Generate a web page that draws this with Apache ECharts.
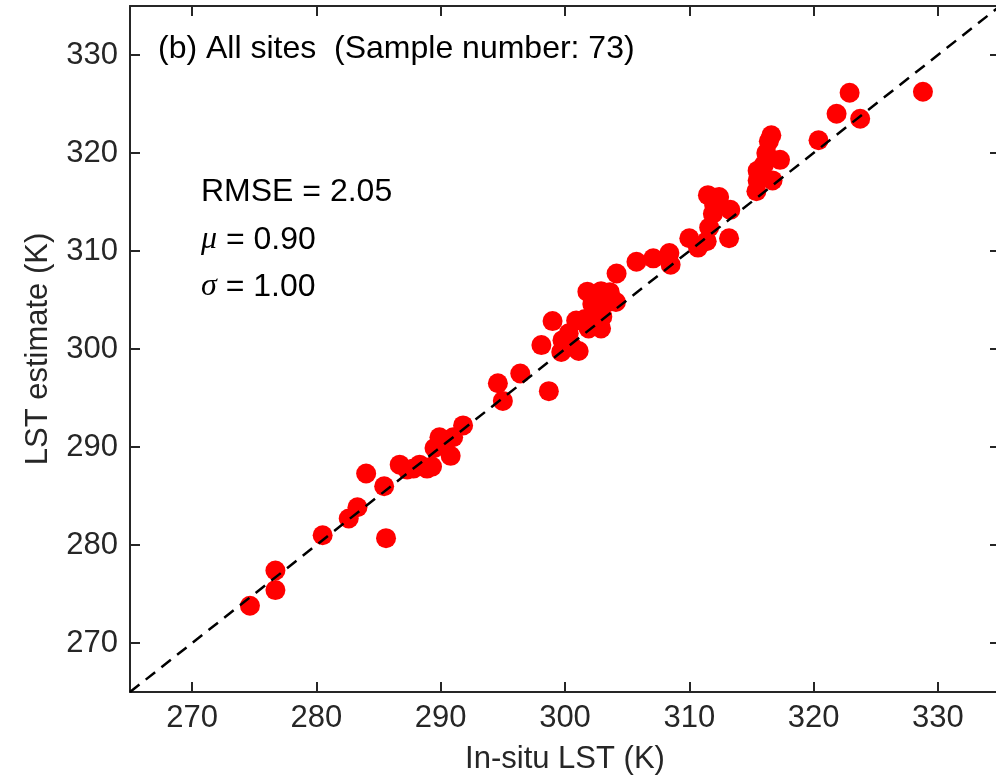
<!DOCTYPE html>
<html><head><meta charset="utf-8">
<script src="https://cdn.jsdelivr.net/npm/echarts@6/dist/echarts.min.js"></script>
<style>html,body{margin:0;padding:0;background:#fff;overflow:hidden;width:996px;height:782px}#c{width:1006px;height:782px}</style>
</head><body><div id="c"></div>
<script>
// In-situ LST (K)
const insitu = [274.65,276.7,276.7,280.5,282.6,283.3,284.0,285.45,285.6,286.7,
  287.3,287.8,288.9,289.3,289.5,289.9,291.0,290.8,291.8,294.6,
  295.0,296.4,298.7,298.1,299.0,299.8,299.7,301.1,300.9,301.6,
  302.9,301.9,302.8,301.8,302.9,303.6,304.1,303.5,304.15,305.75,
  307.1,308.4,308.5,310.0,310.7,311.4,311.5,312.4,311.9,313.3,
  311.6,313.2,315.4,315.5,315.5,316.2,317.3,316.7,316.6,316.4,
  320.4,321.85,322.9,323.75,328.8,288.3,290.3,300.3,302.2,303.0,
  312.0,316.0,300.6];
// LST estimate (K)
const estimate = [273.8,277.4,275.4,281.0,282.7,283.85,287.3,286.0,280.7,288.2,
  287.7,287.8,287.8,288.0,289.9,291.0,291.0,289.1,292.2,296.5,
  294.7,297.5,295.7,300.4,302.85,300.9,299.7,299.8,302.9,303.05,
  302.1,302.1,303.9,305.85,305.9,305.8,304.8,304.8,307.7,308.9,
  309.25,309.8,308.6,311.3,310.35,311.0,315.7,315.5,313.8,314.2,
  312.4,311.3,316.1,317.2,318.2,320.0,319.3,317.2,321.8,321.2,
  321.3,324.0,326.15,323.5,326.25,288.2,290.3,301.6,304.6,303.3,
  314.7,318.8,300.2];
const axisMin = 265, axisMax = 335, tickStep = 10;
const oneToOneLine = [265, 335];
const panelTitle = '(b) All sites  (Sample number: 73)';
const statRMSE = '2.05', statMu = '0.90', statSigma = '1.00';

const FONT = "'Liberation Sans', Arial, Helvetica, sans-serif";
const AX = '#262626';
const chart = echarts.init(document.getElementById('c'), null, {renderer: 'canvas'});

const points = insitu.map((x, i) => [x, estimate[i]]);
const baseAxis = {
  type: 'value', min: axisMin, max: axisMax, minInterval: tickStep, maxInterval: tickStep, splitNumber: 7,
  axisLine: {show: true, onZero: false, lineStyle: {color: AX, width: 2}},
  axisTick: {show: true, inside: true, length: 10, lineStyle: {color: AX, width: 2}},
  splitLine: {show: false}
};
const lab = {
  show: true, color: AX, fontSize: 31, fontFamily: FONT,
  formatter: v => (v % tickStep === 0 ? String(v) : ''),
  showMinLabel: true, showMaxLabel: true
};

chart.setOption({
  animation: false,
  backgroundColor: '#ffffff',
  grid: {left: 130, width: 870, top: 6, height: 686, containLabel: false, outerBoundsMode: 'none'},
  xAxis: [
    Object.assign({}, baseAxis, {position: 'bottom', axisLabel: Object.assign({}, lab, {margin: 11}),
      name: 'In-situ LST (K)', nameLocation: 'middle', nameGap: 52,
      nameTextStyle: {color: AX, fontSize: 31, fontFamily: FONT}}),
    Object.assign({}, baseAxis, {position: 'top', axisLabel: {show: false}})
  ],
  yAxis: [
    Object.assign({}, baseAxis, {position: 'left', axisLabel: Object.assign({}, lab, {margin: 12}),
      name: 'LST estimate (K)', nameLocation: 'middle', nameGap: 76, nameRotate: 90,
      nameTextStyle: {color: AX, fontSize: 31, fontFamily: FONT}}),
    Object.assign({}, baseAxis, {position: 'right', axisLabel: {show: false}})
  ],
  series: [
    {
      type: 'line', xAxisIndex: 0, yAxisIndex: 0,
      data: [[oneToOneLine[0], oneToOneLine[0]], [oneToOneLine[1], oneToOneLine[1]]],
      showSymbol: false, symbol: 'none', silent: true, z: 3,
      lineStyle: {color: '#000', width: 2.5, type: [12, 8]}
    },
    {
      type: 'scatter', xAxisIndex: 0, yAxisIndex: 0,
      data: points, symbol: 'circle', symbolSize: 20, z: 2,
      itemStyle: {color: '#ff0000', opacity: 1}
    }
  ],
  graphic: [
    {type: 'text', left: 158, top: 33, z: 10,
      style: {text: panelTitle, fill: '#000', font: '32px ' + FONT}},
    {type: 'text', left: 201, top: 176, z: 10,
      style: {text: 'RMSE = ' + statRMSE, fill: '#000', font: '32px ' + FONT}},
    {type: 'text', left: 201, top: 224, z: 10,
      style: {text: '{g|\u03BC} = ' + statMu, fill: '#000', font: '32px ' + FONT,
        rich: {g: {fontFamily: "'Liberation Serif', 'Times New Roman', serif", fontStyle: 'italic', fontSize: 32, fill: '#000'}}}},
    {type: 'text', left: 201, top: 271, z: 10,
      style: {text: '{g|\u03C3} = ' + statSigma, fill: '#000', font: '32px ' + FONT,
        rich: {g: {fontFamily: "'Liberation Serif', 'Times New Roman', serif", fontStyle: 'italic', fontSize: 32, fill: '#000'}}}}
  ]
});
</script>
</body></html>
